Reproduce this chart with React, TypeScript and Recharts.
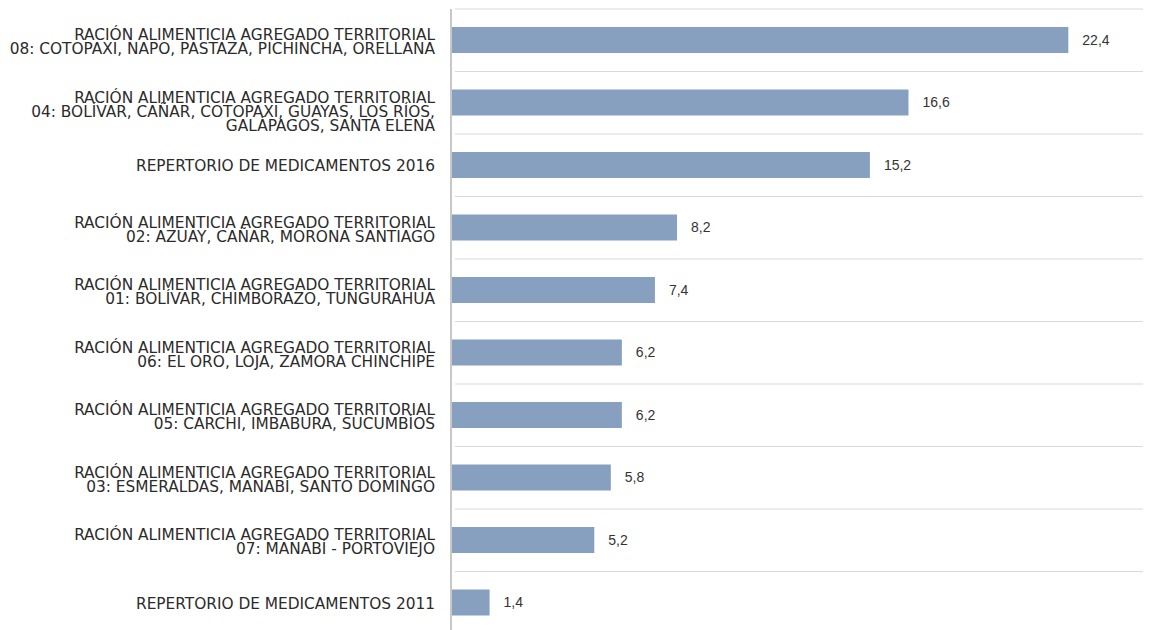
import React from 'react';
import { BarChart, Bar, XAxis, YAxis, CartesianGrid, LabelList } from 'recharts';

const categories = [
  'RACIÓN ALIMENTICIA AGREGADO TERRITORIAL\n08: COTOPAXI, NAPO, PASTAZA, PICHINCHA, ORELLANA',
  'RACIÓN ALIMENTICIA AGREGADO TERRITORIAL\n04: BOLÍVAR, CAÑAR, COTOPAXI, GUAYAS, LOS RÍOS,\nGALÁPAGOS, SANTA ELENA',
  'REPERTORIO DE MEDICAMENTOS 2016',
  'RACIÓN ALIMENTICIA AGREGADO TERRITORIAL\n02: AZUAY, CAÑAR, MORONA SANTIAGO',
  'RACIÓN ALIMENTICIA AGREGADO TERRITORIAL\n01: BOLÍVAR, CHIMBORAZO, TUNGURAHUA',
  'RACIÓN ALIMENTICIA AGREGADO TERRITORIAL\n06: EL ORO, LOJA, ZAMORA CHINCHIPE',
  'RACIÓN ALIMENTICIA AGREGADO TERRITORIAL\n05: CARCHI, IMBABURA, SUCUMBÍOS',
  'RACIÓN ALIMENTICIA AGREGADO TERRITORIAL\n03: ESMERALDAS, MANABÍ, SANTO DOMINGO',
  'RACIÓN ALIMENTICIA AGREGADO TERRITORIAL\n07: MANABÍ - PORTOVIEJO',
  'REPERTORIO DE MEDICAMENTOS 2011',
];

const values = [22.4, 16.6, 15.2, 8.2, 7.4, 6.2, 6.2, 5.8, 5.2, 1.4];

const data = categories.map((name, i) => ({ name, value: values[i] }));

const LABEL_FONT = '"Liberation Sans Narrow", "DejaVu Sans Condensed", Arial, sans-serif';

const CategoryTick = (props: any) => {
  const { x, y, payload } = props;
  const lines: string[] = String(payload.value).split('\n');
  const first = lines.length === 1 ? y + 6 : y;
  // the source font is a touch wider than Arial Narrow, stretch it a little
  return (
    <text
      x={x}
      y={first}
      textAnchor="end"
      fill="#2b2b2b"
      fontSize={15.5}
      fontFamily={LABEL_FONT}
      transform={`translate(${x} 0) scale(1.103 1) translate(${-x} 0)`}
    >
      {lines.map((ln, i) => (
        <tspan key={i} x={x} y={first + i * 14}>
          {ln}
        </tspan>
      ))}
    </text>
  );
};

// grid lines sit on the band edges, not on the tick centres
const bandEdges = (props: any) => {
  const { offset } = props;
  const n = categories.length;
  const step = offset.height / n;
  return Array.from({ length: n + 1 }, (_, i) => offset.top + i * step);
};

const fmt = (v: any) => String(v).replace('.', ',');

export default function App() {
  return (
    <div style={{ width: 1151, height: 630, marginLeft: -8 }}>
      <BarChart
        width={1151}
        height={630}
        data={data}
        layout="vertical"
        margin={{ top: 1, right: 0, left: 0, bottom: 4 }}
        barCategoryGap={0}
      >
        <CartesianGrid
          vertical={false}
          stroke="#d9d9d9"
          strokeWidth={1}
          x={455}
          width={696}
          horizontalCoordinatesGenerator={bandEdges}
        />
        <XAxis type="number" domain={[0, 25.4]} hide />
        <YAxis
          type="category"
          dataKey="name"
          width={451}
          axisLine={{ stroke: '#c8c8c8', strokeWidth: 2 }}
          tickLine={false}
          tick={<CategoryTick />}
          tickMargin={10}
          interval={0}
        />
        <Bar dataKey="value" fill="#87a0bf" barSize={26} isAnimationActive={false}>
          <LabelList
            dataKey="value"
            position="right"
            offset={14}
            formatter={fmt}
            fill="#333333"
            fontSize={14}
            fontFamily="Arial, 'Liberation Sans', sans-serif"
          />
        </Bar>
      </BarChart>
    </div>
  );
}
